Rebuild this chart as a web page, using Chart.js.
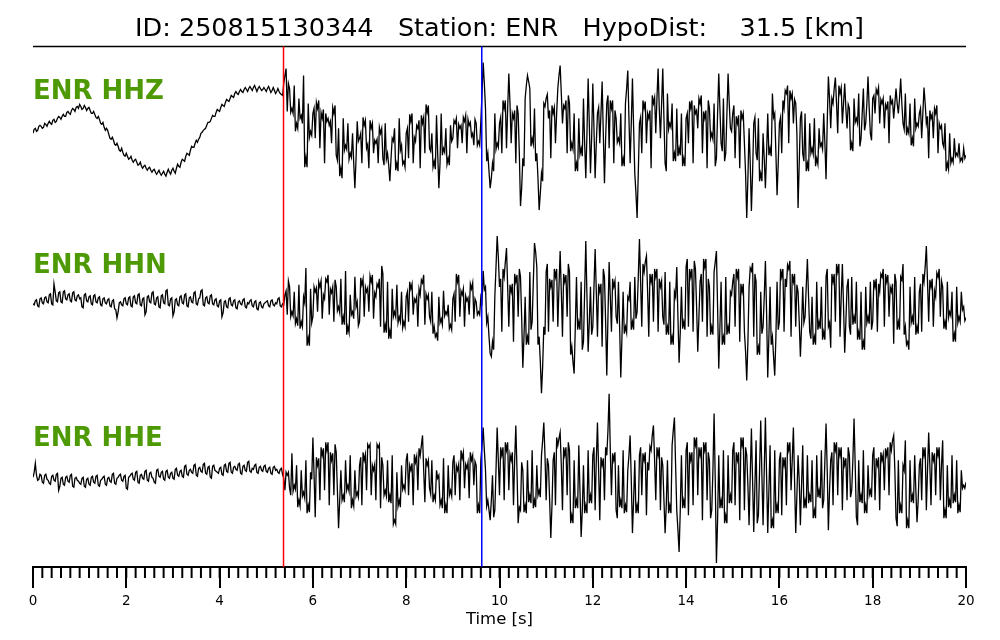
<!DOCTYPE html>
<html>
<head>
<meta charset="utf-8">
<script src="https://cdn.jsdelivr.net/npm/chart.js@4/dist/chart.umd.min.js"></script>
<style>
  html, body { margin: 0; background: #fff; }
</style>
</head>
<body>
<canvas id="seis" width="1000" height="640"></canvas>
<script>
// event / station
var eventId = '250815130344';
var station = 'ENR';
var hypoDist = '31.5';
var channels = ['HHZ', 'HHN', 'HHE'];
var pTime = 5.37;   // red pick
var sTime = 9.62;   // blue pick
var sampleRate = 40; // samples per second in the arrays below

// traces, one row per second (40 samples), last value is t = 20 s
var hhz = [
  0,4,5,2,3,7,8,7,5,6,10,9,7,10,12,10,9,13,14,11,12,15,17,16,14,17,19,17,17,21,22,20,19,23,25,24,22,26,27,25,
  29,27,24,25,28,26,23,25,26,23,20,20,22,19,16,15,17,14,10,9,11,6,3,5,3,-1,-5,-6,-4,-7,-11,-12,-10,-13,-17,-18,-15,-19,-22,-23,
  -20,-23,-26,-25,-23,-27,-29,-27,-26,-29,-32,-31,-29,-33,-35,-33,-32,-35,-37,-35,-34,-37,-39,-37,-36,-39,-41,-39,-37,-40,-42,-40,-38,-41,-43,-39,-36,-39,-41,-37,
  -35,-38,-40,-35,-31,-33,-34,-29,-26,-27,-28,-23,-20,-21,-22,-17,-13,-14,-14,-10,-7,-9,-6,-4,0,1,3,4,5,8,11,11,12,15,18,17,17,21,24,23,
  22,26,29,28,27,31,34,33,32,35,38,37,36,40,42,40,39,42,44,42,41,44,46,44,42,45,47,45,43,46,48,45,42,45,47,45,43,44,46,44,
  42,45,47,44,41,43,46,43,40,42,45,42,40,39,38,50,58,65,22,50,45,21,25,20,48,2,10,5,35,15,18,10,58,-34,-24,-34,30,-4,2,-2,
  20,25,-5,31,25,33,-15,21,15,24,-30,20,12,15,8,12,-10,26,20,28,-22,-27,5,-43,-35,-45,15,-17,-12,-16,10,-26,-20,-24,0,-30,-55,-25,12,-8,
  -5,0,-30,16,8,13,-15,-11,-35,13,5,10,-20,-7,-10,-6,-30,6,0,5,-25,-32,10,-26,-20,-32,-48,-25,-5,-8,5,-37,-30,-38,15,-17,-12,-31,-28,-34,
  0,5,-25,19,12,20,-30,-4,-8,8,5,13,-35,18,10,16,-20,29,21,28,-15,-18,0,-34,-28,-36,18,-20,-55,-30,20,-22,-15,-19,5,-31,-25,-32,8,-8,
  -5,13,10,15,-15,9,5,8,-10,16,12,18,-20,14,8,11,-3,0,-12,14,10,-12,-8,-12,12,40,71,50,25,-28,-20,-38,-55,-45,-30,-38,20,-16,-10,-14,
  10,16,-20,33,25,33,-15,25,60,30,-10,20,15,23,-30,28,20,-20,-73,-55,-25,-33,35,48,58,52,45,-13,-5,-11,25,-28,-20,-45,-77,-60,-40,-48,30,27,
  35,39,15,23,-25,28,20,26,-10,20,45,58,68,40,10,28,25,33,-20,38,30,-18,-10,-16,20,-38,-30,-38,15,-21,-15,-23,35,-10,-45,0,55,10,-40,-5,
  50,5,-45,-10,20,26,-10,20,52,0,-50,-5,30,38,-15,33,25,33,-30,23,15,-9,-5,-10,20,-33,-25,-33,30,45,63,15,-30,10,55,5,-40,-60,-85,-40,
  10,16,-20,33,25,32,-10,20,15,23,-35,38,30,36,0,35,65,25,-5,30,65,15,-30,-38,40,4,10,6,30,-28,-20,-28,25,-23,-15,-22,20,-33,-25,-33,
  15,20,-10,32,25,33,-30,28,20,23,5,35,30,38,-20,22,15,23,-35,33,25,-5,0,-6,30,-33,-25,20,60,25,-10,-18,35,-28,-20,20,60,30,5,2,
  20,28,-25,17,10,18,-35,23,15,20,-10,-40,-85,-45,5,-30,-78,-40,10,16,-20,-27,15,-48,-40,-48,0,-25,-55,-20,20,-22,-15,-23,40,16,20,-20,-62,-30,
  10,16,-20,33,25,43,40,48,-10,43,35,40,10,34,30,0,-75,-30,15,22,-20,-28,20,-38,-30,-38,10,-20,-15,-21,15,-33,-25,-31,5,-13,-10,-16,20,-10,
  -46,10,57,35,5,35,30,45,56,30,0,48,40,46,10,30,50,25,5,29,25,-17,-10,-18,35,11,15,10,40,-13,-5,20,45,3,10,30,57,25,0,-7,
  35,38,20,44,40,46,10,34,30,35,5,29,25,32,-10,38,30,33,15,30,45,30,20,35,55,30,10,4,40,-2,5,0,30,-12,-5,-13,35,5,10,7,
  20,25,-5,20,46,30,10,17,-25,23,15,19,-5,25,20,28,-20,10,5,8,-10,-14,10,-38,-30,-36,0,-30,-25,-29,-5,-23,-20,-23,-10,-28,-25,-28,-15,-25,
  -22
];

var hhn = [
  3,2,6,7,1,0,8,9,4,3,9,10,5,4,12,13,3,2,23,15,6,5,14,15,5,4,15,16,8,7,12,13,6,5,14,15,7,6,11,12,
  8,9,0,-1,12,13,6,5,10,11,3,2,11,12,5,4,9,10,2,1,8,9,4,3,7,8,1,0,6,7,-2,-3,-11,-5,4,5,2,1,8,9,
  3,2,9,10,1,0,10,11,4,3,12,13,2,1,8,9,-8,-5,10,11,5,4,14,15,3,2,9,10,0,-1,11,12,4,3,16,17,2,1,8,9,
  -9,-5,7,8,2,1,10,11,4,3,12,13,1,0,9,10,5,4,14,15,3,2,8,9,16,17,2,1,9,10,4,3,11,12,3,2,7,8,1,0,
  6,7,-10,-6,5,6,0,-1,8,9,2,1,6,7,-1,-2,5,6,3,2,7,8,0,-1,4,3,6,7,1,0,5,6,-2,-3,4,5,0,-1,3,4,
  5,6,1,0,6,7,2,1,4,3,8,9,1,0,3,2,12,16,-8,26,20,-10,-5,-9,15,-17,-12,-19,22,-22,-15,-20,10,4,39,-39,-31,-39,18,-16,
  -10,20,15,19,-5,25,20,26,-12,12,8,28,25,32,-8,18,14,20,-15,27,20,-4,0,-6,28,-18,-10,-18,36,-28,-20,-26,12,-8,-5,-12,30,0,5,-19,
  -15,29,22,28,-10,20,15,19,-5,31,25,32,-12,14,10,23,20,28,-20,41,33,-26,-18,-26,25,-32,-24,-32,18,-10,-5,-10,22,-16,-10,-15,15,-21,-15,-20,
  10,15,-15,25,18,23,-8,8,5,10,-20,18,12,27,24,32,-18,13,8,12,-10,-15,15,-27,-20,-30,-27,-34,10,-16,-12,-18,16,-9,-5,-8,2,-22,-18,-23,
  8,13,-15,33,25,32,-10,16,12,18,-20,11,6,9,-8,23,18,24,-12,8,5,-8,-5,-8,10,5,36,17,20,-16,-10,-30,-47,-50,-35,-43,10,40,71,50,
  20,28,-25,38,30,45,59,20,-20,22,15,23,-35,33,25,32,-10,38,30,-10,-61,-30,10,-38,-30,-38,35,-23,-15,25,64,55,40,-38,-30,-55,-87,-60,-20,-28,
  35,43,-25,28,20,27,-15,38,30,38,-20,20,56,15,-30,33,25,32,-10,43,35,-48,-40,-55,-67,-20,30,-23,-15,-23,25,-43,-35,15,66,10,-45,-15,20,-28,
  -20,20,58,15,-30,23,15,23,-40,38,30,-15,-69,-10,45,10,-25,28,20,26,-10,-17,25,-20,-71,-30,15,-27,-20,-26,10,7,25,-23,-15,-23,30,-12,-5,30,
  68,25,-20,43,35,45,51,15,-30,33,25,33,-15,38,30,38,-25,28,20,26,-10,-18,35,-28,-20,-28,25,-38,-30,-38,15,10,40,-10,-56,-25,20,-22,-15,-23,
  40,48,-20,38,30,38,-25,46,38,0,-45,-10,25,33,-15,48,40,48,-30,28,20,-28,-20,-28,35,45,56,0,-62,-20,25,-38,-30,-38,30,-28,-20,-27,15,12,
  25,33,-20,38,30,38,-35,23,15,23,-25,-45,-74,-35,20,39,36,44,-30,33,25,-48,-40,-48,15,-27,-20,10,46,-5,-71,-30,20,-38,-30,-50,-69,-30,25,-23,
  -15,38,30,38,-25,28,20,42,38,46,-30,33,25,33,-20,22,15,-15,-50,-20,20,-16,-10,20,48,10,-25,-32,10,-38,-30,-38,25,-23,-15,-22,20,-33,-25,-33,
  30,38,-20,-16,-41,33,25,33,-15,43,35,43,-30,10,43,0,-46,-15,20,28,-20,-28,30,-18,-10,-17,25,-33,-25,-33,15,-43,-35,-43,20,-16,-10,-17,25,-23,
  -15,27,20,28,-25,23,15,33,30,38,-20,33,25,32,-10,20,15,23,-37,33,25,-23,-15,-23,30,27,43,-28,-20,-38,-35,-43,20,-16,-10,-18,30,-28,-20,-27,
  15,23,-25,33,25,40,61,25,-15,27,20,28,-20,16,10,34,30,38,-10,26,20,-22,-15,-23,25,-11,-5,-9,15,-35,-27,-35,20,-16,-10,-15,15,-3,0,-14,
  -11
];

var hhe = [
  3,8,17,5,0,1,6,5,-2,-3,5,6,1,0,-3,-4,4,5,0,-1,6,7,-10,-6,2,3,-4,-5,3,4,-1,-2,5,6,-6,-7,2,3,0,-1,
  -3,-4,2,3,-6,-7,1,2,-4,-5,3,4,-2,-3,4,5,-5,-6,0,1,3,4,-4,-5,2,3,-1,-2,6,7,-3,-4,2,3,5,6,0,-1,4,5,
  -8,-9,3,4,6,7,1,0,8,9,-2,-3,5,6,2,1,9,10,0,-1,7,8,3,2,-2,-3,10,11,4,3,8,9,1,0,9,10,3,2,7,8,
  2,1,11,12,5,4,9,10,4,3,14,15,6,5,10,11,8,7,15,16,5,4,12,13,9,8,16,17,7,6,13,14,3,2,14,15,10,9,8,7,
  12,13,6,5,15,16,9,8,17,18,8,7,13,14,11,10,16,17,7,6,14,15,10,9,18,19,9,8,12,11,15,16,8,7,13,14,10,9,14,15,
  9,8,12,13,7,6,13,14,10,11,8,7,11,12,6,2,-10,8,5,8,-8,-15,27,-11,-5,-9,15,-27,-20,-26,10,-16,-12,-18,20,-33,-25,-32,8,1,
  43,5,-37,23,15,22,-20,33,25,32,-10,38,30,38,-25,28,20,27,-15,36,28,-10,-48,-20,10,-20,-15,-22,20,-10,-5,-11,25,-28,-20,-26,10,-16,-12,-17,
  15,23,-25,28,20,26,-10,36,33,36,-15,15,10,16,-20,36,33,36,-28,23,15,-15,-10,-16,20,-22,-15,-23,25,-44,-40,-44,8,-26,-20,-27,15,-9,-5,-10,
  20,27,-15,15,10,17,-25,26,18,24,-10,32,25,35,45,10,-22,22,15,20,-8,-14,20,-22,-15,-20,10,2,5,-25,-20,-28,22,-33,-25,-33,15,-15,-10,-16,
  18,25,-15,15,10,16,-20,30,22,28,-8,16,12,18,-18,28,20,25,-5,19,15,-33,-25,-33,20,35,53,30,10,-26,-20,-30,-40,-20,5,-37,-30,10,53,20,
  -15,33,25,33,-20,38,30,38,-10,26,20,28,-25,20,55,10,-43,-27,-30,18,10,-32,-25,-33,20,-22,-15,-23,30,-28,-20,-27,15,-15,-10,-17,25,40,58,25,
  -20,22,15,-20,-58,-25,20,28,-25,43,35,42,48,15,-30,33,25,33,-15,38,30,-43,-35,-43,20,-28,-20,-28,35,-10,-57,-30,15,-33,-25,-33,30,-23,-15,-23,
  25,33,-30,20,58,10,-40,23,15,22,-20,33,25,50,87,30,-15,27,20,28,-30,-38,15,-27,-20,-28,30,-33,-25,-32,10,25,45,0,-53,-20,20,-33,-25,-33,
  25,33,-15,27,20,28,-35,18,10,34,30,45,55,20,-20,33,25,33,-30,23,15,-20,-53,-25,20,-33,-25,-33,35,50,63,15,-30,-50,-72,-30,25,-28,-20,-28,
  30,38,-35,28,20,28,-25,43,35,43,-15,33,25,33,-40,38,30,38,-20,28,20,-38,-30,10,67,0,-83,-40,25,-28,-20,-28,30,-43,-35,-43,25,-23,-15,-23,
  30,38,-25,28,20,28,-40,43,35,43,-30,33,25,-5,-45,5,52,0,-52,-5,40,-43,-35,10,60,5,-45,10,63,5,-53,-10,35,-48,-40,-48,30,-33,-25,-33,
  20,28,-35,23,15,23,-25,38,30,38,-10,20,53,0,-53,-15,25,0,-45,-5,35,-28,-20,-28,25,-23,-15,-22,20,-38,-30,-38,25,-17,-10,-18,30,-28,-20,20,
  57,10,-50,-10,20,28,-25,38,30,38,-15,33,25,33,-30,23,15,22,-20,33,25,-17,-10,20,62,15,-37,-45,20,-22,-15,-23,30,-33,-25,-33,15,-15,-10,-17,
  25,33,-20,22,15,23,-30,28,20,26,-10,32,25,33,-15,38,30,40,45,10,-38,-46,20,-33,-25,-33,15,10,40,-48,-40,-48,20,-22,-15,-23,25,-10,-42,-20,
  15,22,-20,33,25,33,-30,10,48,15,-25,28,20,27,-15,33,25,33,-20,15,40,-38,-30,-38,15,-27,-20,-28,25,-23,-15,-22,20,-33,-25,-32,10,-8,-5,-8,
  -2
];

var traces = [hhz, hhn, hhe];
var axisIds = ['z', 'n', 'e'];
var labelGreen = '#4e9a06';
var font = 'DejaVu Sans';

function toPoints(arr) {
  return arr.map(function (v, i) { return { x: i / sampleRate, y: v }; });
}

var datasets = traces.map(function (tr, i) {
  return {
    label: station + ' ' + channels[i],
    data: toPoints(tr),
    yAxisID: axisIds[i],
    borderColor: '#000',
    borderWidth: 1.3,
    pointRadius: 0,
    tension: 0,
    fill: false
  };
});

var scales = {
  x: {
    type: 'linear', position: 'bottom', min: 0, max: 20,
    border: { color: '#000', width: 2 },
    grid: { drawOnChartArea: false, color: '#000', lineWidth: 2, tickLength: 21 },
    ticks: { stepSize: 2, color: '#000', padding: 5, maxRotation: 0, autoSkip: false,
             font: { family: font, size: 13.5 } },
    title: { display: true, text: 'Time [s]', color: '#000', padding: { top: -4, bottom: 0 },
             font: { family: font, size: 16.5 } }
  }
};
// the stack is laid out from the bottom up, so the lowest trace goes in first
axisIds.slice().reverse().forEach(function (id) {
  scales[id] = { axis: 'y', type: 'linear', position: 'left', stack: 'traces', stackWeight: 1,
                 min: -87, max: 87, display: false };
});

// picks, top frame line, channel names, minor ticks
var overlay = {
  id: 'overlay',
  afterDatasetsDraw: function (chart) {
    var ctx = chart.ctx, a = chart.chartArea, x = chart.scales.x;
    ctx.save();
    ctx.strokeStyle = '#000';
    ctx.lineWidth = 1.5;
    ctx.beginPath();
    ctx.moveTo(a.left, a.top);
    ctx.lineTo(a.right, a.top);
    ctx.stroke();

    [[pTime, '#ff0000'], [sTime, '#0000ff']].forEach(function (p) {
      var px = x.getPixelForValue(p[0]);
      ctx.strokeStyle = p[1];
      ctx.lineWidth = 1.5;
      ctx.beginPath();
      ctx.moveTo(px, a.top);
      ctx.lineTo(px, a.bottom);
      ctx.stroke();
    });

    ctx.fillStyle = labelGreen;
    ctx.font = 'bold 26px "' + font + '"';
    ctx.textAlign = 'left';
    ctx.textBaseline = 'top';
    axisIds.forEach(function (id, i) {
      ctx.fillText(station + ' ' + channels[i], a.left, chart.scales[id].top + 33);
    });

    ctx.strokeStyle = '#000';
    ctx.lineWidth = 2;
    for (var k = 0; k <= 100; k++) {
      var px = x.getPixelForValue(k * 0.2);
      ctx.beginPath();
      ctx.moveTo(px, a.bottom);
      ctx.lineTo(px, a.bottom + 11);
      ctx.stroke();
    }
    ctx.restore();
  }
};

new Chart(document.getElementById('seis'), {
  type: 'line',
  data: { datasets: datasets },
  options: {
    responsive: false,
    animation: false,
    layout: { padding: { left: 33, right: 34, top: 0, bottom: 10 } },
    plugins: {
      legend: { display: false },
      tooltip: { enabled: false },
      title: {
        display: true,
        text: 'ID: ' + eventId + '   Station: ' + station + '   HypoDist:    ' + hypoDist + ' [km]',
        color: '#000',
        font: { family: font, size: 25.5, weight: 'normal' },
        padding: { top: 14, bottom: 2 }
      }
    },
    scales: scales
  },
  plugins: [overlay]
});
</script>
</body>
</html>
